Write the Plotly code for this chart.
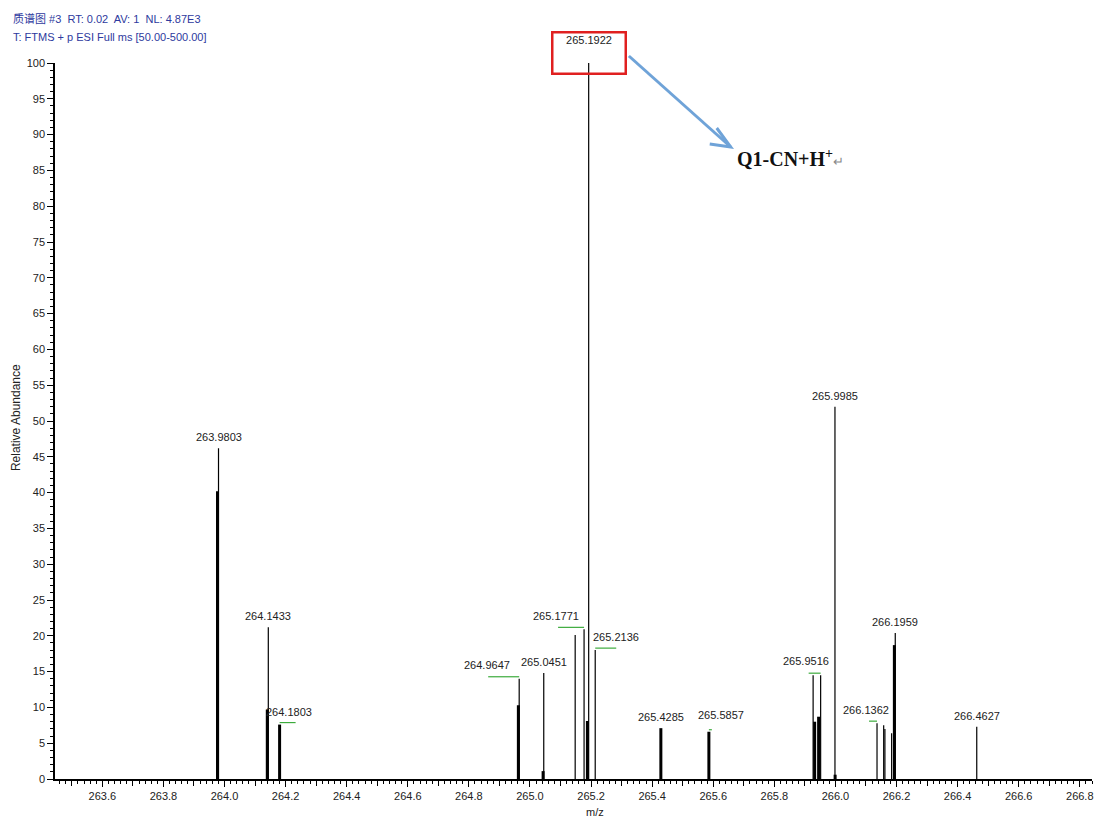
import plotly.graph_objects as go

# ---- spectrum data (m/z, relative abundance) ----
# centroid sticks drawn as thin lines
thin_mz = [263.9803, 264.1433, 264.9647, 265.0451, 265.1480, 265.1771, 265.1922,
           265.2136, 265.9270, 265.9516, 265.9985, 266.1362, 266.1580, 266.1620,
           266.1840, 266.1959, 266.4627]
thin_int = [46.2, 21.2, 14.0, 14.8, 20.1, 20.9, 100.0,
            18.0, 14.5, 14.5, 52.0, 7.8, 7.5, 7.0,
            6.4, 20.4, 7.3]

# neighbouring unresolved signals drawn as heavy sticks
thick_mz = [263.9770, 264.1400, 264.1803, 264.9620, 265.0430, 265.1880,
            265.4285, 265.5857, 265.9320, 265.9450, 265.9990, 266.1930]
thick_int = [40.2, 9.7, 7.6, 10.3, 1.1, 8.1,
             7.1, 6.6, 8.0, 8.7, 0.6, 18.7]

# labelled peaks
label_mz = [263.9803, 264.1433, 264.1803, 264.9647, 265.0451, 265.1771, 265.1922,
            265.2136, 265.4285, 265.5857, 265.9516, 265.9985, 266.1362, 266.1959,
            266.4627]
label_int = [46.2, 21.2, 7.6, 14.0, 14.8, 20.9, 100.0,
             18.0, 7.1, 6.6, 14.5, 52.0, 7.8, 20.4,
             7.3]

x_tick_labels = ["263.6", "263.8", "264.0", "264.2", "264.4", "264.6", "264.8",
                 "265.0", "265.2", "265.4", "265.6", "265.8", "266.0", "266.2",
                 "266.4", "266.6", "266.8"]
y_tick_labels = [str(v) for v in range(0, 101, 5)]

header_line1 = "质谱图 #3  RT: 0.02  AV: 1  NL: 4.87E3"
header_line2 = "T: FTMS + p ESI Full ms [50.00-500.00]"
base_peak_mz = 265.1922
ion_label = "Q1-CN+H"

# ---- layout geometry ----
W, H = 1094, 826
ML, MR, MT, MB = 55, 0, 63, 47
PW, PH = W - ML - MR, H - MT - MB
X_RANGE = [263.445, 266.84]

NARROW = "Liberation Sans Narrow, Arial Narrow, Liberation Sans, sans-serif"


def px(xp):
    return (xp - ML) / PW


def py(yp):
    return (H - MB - yp) / PH


def sticks(xs, ys):
    sx, sy = [], []
    for x, y in zip(xs, ys):
        sx += [x, x, None]
        sy += [0, y, None]
    return sx, sy


fig = go.Figure()

tx, ty = sticks(thick_mz, thick_int)
fig.add_trace(go.Scatter(x=tx, y=ty, mode="lines",
                         line=dict(color="black", width=3),
                         hoverinfo="skip", showlegend=False))
sx, sy = sticks(thin_mz, thin_int)
fig.add_trace(go.Scatter(x=sx, y=sy, mode="lines",
                         line=dict(color="black", width=1.2),
                         hoverinfo="skip", showlegend=False))

# label placement: horizontal pixel offset and optional green leader length
label_shift = {264.1803: 9, 264.9647: -32, 265.1771: -28, 265.2136: 21,
               265.5857: 12, 265.9516: -15, 266.1362: -11}
leader = {264.1803: 16, 264.9647: 31, 265.1771: 26, 265.2136: 21,
          265.5857: 3, 265.9516: 12, 266.1362: 8}
label_lift = {264.1803: 5, 264.9647: 6, 265.1771: 5, 265.2136: 5,
              265.5857: 9, 265.9516: 6, 266.1362: 5}

LABEL_FONT = dict(family=NARROW, size=11, color="#222")

annotations = []
shapes = []
for mz, inten in zip(label_mz, label_int):
    txt = f"{mz:.4f}"
    if mz == base_peak_mz:
        annotations.append(dict(
            x=mz, y=inten, xref="x", yref="y", text=txt, showarrow=False,
            xanchor="center", yanchor="bottom", yshift=-12, valign="top",
            width=71, height=39, borderpad=0,
            bordercolor="#e02020", borderwidth=2.5,
            font=LABEL_FONT))
        continue
    annotations.append(dict(
        x=mz, y=inten, xref="x", yref="y", text=txt, showarrow=False,
        xanchor="center", yanchor="bottom",
        xshift=label_shift.get(mz, 0), yshift=label_lift.get(mz, 3),
        font=LABEL_FONT))
    if mz in leader:
        d = leader[mz]
        sgn = 1 if label_shift[mz] > 0 else -1
        shapes.append(dict(
            type="line", xref="x", yref="y", xsizemode="pixel", ysizemode="pixel",
            xanchor=mz, yanchor=inten, x0=0, x1=sgn * d, y0=2, y1=2,
            line=dict(color="#3cab3c", width=1.2)))

# blue call-out arrow with open head
x0p, y0p, x1p, y1p = 630, 56, 732, 147
shapes.append(dict(type="line", xref="paper", yref="paper",
                   x0=px(x0p), y0=py(y0p), x1=px(x1p), y1=py(y1p),
                   line=dict(color="#6fa3d8", width=3)))
shapes.append(dict(type="path", xref="paper", yref="paper",
                   path=f"M {px(718)},{py(128)} L {px(x1p)},{py(y1p)} L {px(711)},{py(144)}",
                   line=dict(color="#6fa3d8", width=3)))

annotations.append(dict(
    x=px(736), y=py(158), xref="paper", yref="paper", xanchor="left", yanchor="middle",
    showarrow=False,
    text=f"<b>{ion_label}<sup>+</sup></b><span style='font-size:13px;color:#888'>↵</span>",
    font=dict(family="Liberation Serif, Times New Roman, serif", size=20, color="#111")))

# header text
annotations.append(dict(x=px(11), y=py(18), xref="paper", yref="paper",
                        xanchor="left", yanchor="middle", showarrow=False,
                        text=header_line1,
                        font=dict(family=NARROW + ", Noto Sans CJK SC", size=11, color="#2e3a9e")))
annotations.append(dict(x=px(11), y=py(37), xref="paper", yref="paper",
                        xanchor="left", yanchor="middle", showarrow=False,
                        text=header_line2,
                        font=dict(family=NARROW, size=11, color="#2e3a9e")))

# axis titles
annotations.append(dict(x=px(16), y=py(418), xref="paper", yref="paper",
                        xanchor="center", yanchor="middle", showarrow=False,
                        textangle=-90, text="Relative Abundance",
                        font=dict(family=NARROW, size=12, color="#222")))
annotations.append(dict(x=px(596), y=py(812), xref="paper", yref="paper",
                        xanchor="center", yanchor="middle", showarrow=False,
                        text="m/z",
                        font=dict(family=NARROW, size=11, color="#222")))

AX_COMMON = dict(showgrid=False, zeroline=False, showline=True,
                 linecolor="black", linewidth=1.5,
                 ticks="outside", tickwidth=1.2, tickcolor="black")

fig.update_layout(
    width=W, height=H,
    margin=dict(l=ML, r=MR, t=MT, b=MB),
    paper_bgcolor="white", plot_bgcolor="white",
    showlegend=False,
    annotations=annotations, shapes=shapes,
    xaxis=dict(range=X_RANGE, **AX_COMMON,
               tickmode="array", tickvals=[float(t) for t in x_tick_labels],
               ticktext=x_tick_labels, ticklen=6, ticklabeloverflow="allow",
               minor=dict(dtick=0.02, tick0=263.5, ticks="outside", ticklen=3,
                          tickcolor="black", tickwidth=1, showgrid=False),
               tickfont=dict(family=NARROW, size=11, color="#222")),
    # medium ticks every 0.1 on an overlaid, unlabeled axis
    xaxis2=dict(range=X_RANGE, overlaying="x", side="bottom", anchor="y",
                showgrid=False, zeroline=False, showline=False,
                tickmode="linear", tick0=263.5, dtick=0.1,
                ticks="outside", ticklen=6, tickwidth=1.2, tickcolor="black",
                showticklabels=False),
    yaxis=dict(range=[0, 100], **AX_COMMON,
               tickmode="array", tickvals=[int(t) for t in y_tick_labels],
               ticktext=y_tick_labels, ticklen=6,
               minor=dict(dtick=1, tick0=0, ticks="outside", ticklen=3,
                          tickcolor="black", tickwidth=1, showgrid=False),
               tickfont=dict(family=NARROW, size=11, color="#222")),
)
# invisible trace to activate the overlaid tick axis
fig.add_trace(go.Scatter(x=[X_RANGE[0]], y=[0], xaxis="x2", mode="markers",
                         marker=dict(opacity=0), hoverinfo="skip", showlegend=False))

fig.write_html("out.html")
